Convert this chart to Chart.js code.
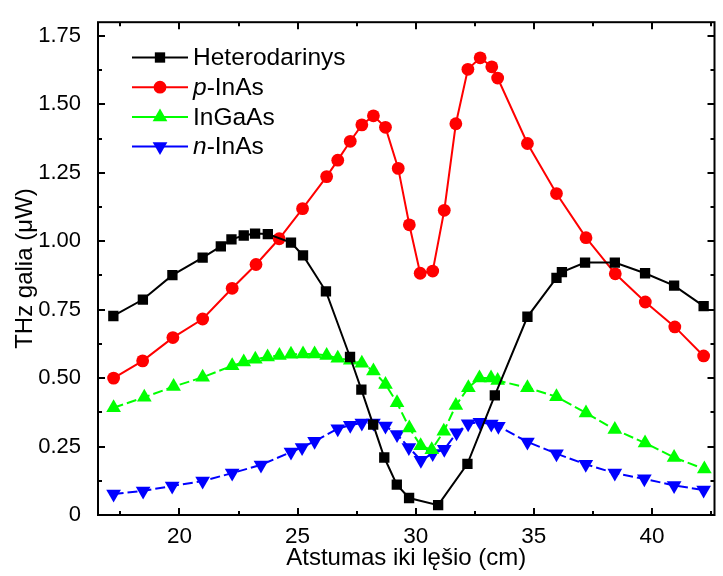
<!DOCTYPE html>
<html lang="lt">
<head>
<meta charset="UTF-8">
<title>THz galia</title>
<script src="https://cdn.jsdelivr.net/npm/chart.js"></script>
<style>
    html, body { margin: 0; padding: 0; background: #fff; }
</style>
</head>
<body>
<canvas id="thzChart" width="723" height="576"></canvas>

<script>
    // Duomenys nuskaityti nuo grafiko (x - cm, y - uW)
    const heteroX = [17.2, 18.45, 19.7, 20.98, 21.75, 22.2, 22.72, 23.2, 23.74, 24.72, 25.23, 26.2, 27.22, 27.7, 28.2, 28.67, 29.2, 29.72, 30.95, 32.19, 33.35, 34.73, 35.96, 36.19, 37.17, 38.43, 39.71, 40.94, 42.19];
    const heteroY = [0.727, 0.787, 0.876, 0.94, 0.981, 1.007, 1.021, 1.028, 1.026, 0.995, 0.948, 0.817, 0.577, 0.458, 0.330, 0.21, 0.111, 0.062, 0.036, 0.187, 0.437, 0.724, 0.866, 0.887, 0.922, 0.922, 0.883, 0.838, 0.763];

    const pInAsX = [17.21, 18.44, 19.72, 20.98, 22.23, 23.24, 24.22, 25.21, 26.23, 26.7, 27.23, 27.72, 28.21, 28.72, 29.26, 29.73, 30.19, 30.72, 31.21, 31.7, 32.21, 32.73, 33.22, 33.47, 34.73, 35.96, 37.21, 38.45, 39.72, 40.97, 42.19];
    const pInAsY = [0.50, 0.563, 0.648, 0.716, 0.828, 0.915, 1.009, 1.119, 1.236, 1.296, 1.365, 1.425, 1.458, 1.416, 1.266, 1.060, 0.883, 0.891, 1.113, 1.429, 1.628, 1.670, 1.637, 1.596, 1.357, 1.174, 1.013, 0.881, 0.778, 0.687, 0.581];

    const inGaAsX = [17.21, 18.51, 19.75, 20.98, 22.23, 22.72, 23.21, 23.73, 24.23, 24.72, 25.23, 25.72, 26.23, 26.7, 27.23, 27.72, 28.21, 28.72, 29.21, 29.73, 30.21, 30.68, 31.19, 31.7, 32.23, 32.7, 33.19, 33.47, 34.73, 35.96, 37.21, 38.43, 39.71, 40.94, 42.22];
    const inGaAsY = [0.392, 0.430, 0.469, 0.503, 0.545, 0.559, 0.569, 0.577, 0.583, 0.587, 0.588, 0.588, 0.583, 0.573, 0.565, 0.554, 0.526, 0.477, 0.41, 0.318, 0.253, 0.238, 0.306, 0.40, 0.465, 0.50, 0.50, 0.491, 0.465, 0.432, 0.373, 0.312, 0.263, 0.210, 0.168];

    const nInAsX = [17.21, 18.46, 19.69, 20.98, 22.23, 23.45, 24.72, 25.19, 25.72, 26.7, 27.23, 27.72, 28.21, 28.72, 29.21, 29.71, 30.22, 30.72, 31.21, 31.73, 32.22, 32.72, 33.2, 33.5, 34.73, 35.96, 37.2, 38.43, 39.68, 40.94, 42.19];
    const nInAsY = [0.077, 0.088, 0.106, 0.124, 0.153, 0.183, 0.230, 0.247, 0.269, 0.315, 0.328, 0.336, 0.336, 0.325, 0.294, 0.247, 0.20, 0.225, 0.24, 0.30, 0.333, 0.339, 0.332, 0.324, 0.267, 0.224, 0.185, 0.153, 0.132, 0.108, 0.091];

    // Ašių padalos
    const xMajor = [20, 25, 30, 35, 40];
    const xMinor = [17.5, 22.5, 27.5, 32.5, 37.5, 42.5];
    const yMajor = [0, 0.25, 0.5, 0.75, 1.0, 1.25, 1.5, 1.75];
    const yMinor = [0.125, 0.375, 0.625, 0.875, 1.125, 1.375, 1.625];

    const FONT = "'Liberation Sans', Arial, sans-serif";

    function toPoints(xs, ys) {
        return xs.map((x, i) => ({ x: x, y: ys[i] }));
    }

    function yLabel(v) {
        return v === 0 ? '0' : v.toFixed(2);
    }

    // Rėmelis ir padalų brūkšneliai į vidų
    const framePlugin = {
        id: 'frameTicks',
        afterDraw(chart) {
            const ctx = chart.ctx;
            const a = chart.chartArea;
            const xs = chart.scales.x, ys = chart.scales.y;
            ctx.save();
            ctx.strokeStyle = '#000';
            ctx.lineWidth = 2;
            ctx.strokeRect(a.left, a.top, a.right - a.left, a.bottom - a.top);
            ctx.beginPath();
            const tick = (vals, len) => {
                vals.forEach(v => {
                    const px = Math.round(xs.getPixelForValue(v));
                    ctx.moveTo(px, a.bottom); ctx.lineTo(px, a.bottom - len);
                    ctx.moveTo(px, a.top); ctx.lineTo(px, a.top + len);
                });
            };
            const tickY = (vals, len) => {
                vals.forEach(v => {
                    const py = Math.round(ys.getPixelForValue(v));
                    ctx.moveTo(a.left, py); ctx.lineTo(a.left + len, py);
                    ctx.moveTo(a.right, py); ctx.lineTo(a.right - len, py);
                });
            };
            tick(xMajor, 7); tick(xMinor, 4);
            tickY(yMajor, 7); tickY(yMinor, 4);
            ctx.stroke();
            ctx.restore();
        }
    };

    // Legenda: linija + žymeklis + tekstas (p, n kursyvu)
    const legendPlugin = {
        id: 'lineLegend',
        afterDraw(chart) {
            const ctx = chart.ctx;
            const parts = [
                [['', 'Heterodarinys']],
                [['p', '-InAs']],
                [['', 'InGaAs']],
                [['n', '-InAs']]
            ];
            ctx.save();
            chart.data.datasets.forEach((ds, i) => {
                const y = 57.5 + i * 29.7;
                ctx.strokeStyle = ds.borderColor;
                ctx.lineWidth = 2;
                ctx.setLineDash([]);
                ctx.beginPath();
                ctx.moveTo(132, y); ctx.lineTo(188, y);
                ctx.stroke();
                ctx.fillStyle = ds.pointBackgroundColor;
                Chart.helpers.drawPoint(ctx, {
                    pointStyle: ds.pointStyle,
                    radius: ds.pointRadius,
                    rotation: ds.pointRotation || 0,
                    borderWidth: 0
                }, 160, y);
                ctx.fillStyle = '#000';
                ctx.textBaseline = 'middle';
                ctx.textAlign = 'left';
                let x = 193;
                parts[i].forEach(([it, rest]) => {
                    if (it) {
                        ctx.font = 'italic 24.5px ' + FONT;
                        ctx.fillText(it, x, y + 1);
                        x += ctx.measureText(it).width;
                    }
                    ctx.font = '24.5px ' + FONT;
                    ctx.fillText(rest, x, y + 1);
                    x += ctx.measureText(rest).width;
                });
            });
            ctx.restore();
        }
    };

    function series(label, xs, ys, color, style, radius, dash, rot) {
        return {
            label: label,
            data: toPoints(xs, ys),
            borderColor: color,
            backgroundColor: color,
            pointBackgroundColor: color,
            borderWidth: 2,
            borderDash: dash,
            pointStyle: style,
            pointRadius: radius,
            pointRotation: rot,
            pointBorderWidth: 0,
            pointHoverRadius: radius,
            tension: 0
        };
    }

    const config = {
        type: 'line',
        data: {
            datasets: [
                series('Heterodarinys', heteroX, heteroY, '#000000', 'rect', 7.3, [], 0),
                series('p-InAs', pInAsX, pInAsY, '#ff0000', 'circle', 6.4, [], 0),
                series('InGaAs', inGaAsX, inGaAsY, '#00ff00', 'triangle', 8.5, [10, 4], 0),
                series('n-InAs', nInAsX, nInAsY, '#0000ff', 'triangle', 8.5, [10, 4], 180)
            ]
        },
        options: {
            responsive: false,
            animation: false,
            devicePixelRatio: 1,
            layout: { padding: { top: 5, right: 2, left: 0, bottom: 0 } },
            plugins: {
                legend: { display: false },
                tooltip: { enabled: false }
            },
            scales: {
                x: {
                    type: 'linear',
                    min: 16.55,
                    max: 42.65,
                    afterBuildTicks: s => { s.ticks = xMajor.map(v => ({ value: v })); },
                    afterFit: s => { s.height = 61; },
                    ticks: {
                        autoSkip: false, maxRotation: 0, padding: 0, color: '#000',
                        font: { family: FONT, size: 22.5 },
                        callback: v => String(v)
                    },
                    grid: { display: false },
                    border: { display: false },
                    title: {
                        display: true, text: 'Atstumas iki lęšio (cm)', color: '#000',
                        font: { family: FONT, size: 24 },
                        padding: { top: 0, bottom: 3 }
                    }
                },
                y: {
                    type: 'linear',
                    min: 0,
                    max: 1.8,
                    afterBuildTicks: s => { s.ticks = yMajor.map(v => ({ value: v })); },
                    afterFit: s => { s.width = 98; },
                    ticks: {
                        autoSkip: false, padding: 9, color: '#000',
                        font: { family: FONT, size: 22 },
                        callback: v => yLabel(v)
                    },
                    grid: { display: false },
                    border: { display: false },
                    title: {
                        display: true, text: 'THz galia (μW)', color: '#000',
                        font: { family: FONT, size: 24 },
                        padding: { top: 11, bottom: 0 }
                    }
                }
            }
        },
        plugins: [framePlugin, legendPlugin]
    };

    const chart = new Chart(document.getElementById('thzChart').getContext('2d'), config);
</script>
</body>
</html>
